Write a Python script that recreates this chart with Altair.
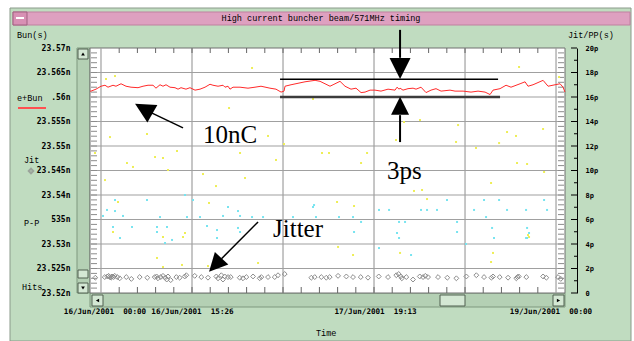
import altair as alt
import pandas as pd

# ---------------------------------------------------------------- data
# e+Bun timing (ns) against hours since 16/Jun/2001 00:00
BUN = [(-1.74, 23.5612), (-1.58, 23.5612), (-0.79, 23.5616), (0.00, 23.5622), (0.63, 23.5624),
       (1.11, 23.5620), (1.90, 23.5624), (2.37, 23.5622), (3.17, 23.5627), (3.96, 23.5622),
       (4.75, 23.5620), (5.86, 23.5619), (6.65, 23.5622), (7.44, 23.5624), (8.23, 23.5624),
       (8.70, 23.5618), (9.34, 23.5625), (9.81, 23.5622), (10.29, 23.5625), (10.92, 23.5620),
       (11.71, 23.5619), (12.19, 23.5616), (12.66, 23.5619), (13.45, 23.5616), (14.08, 23.5619),
       (14.88, 23.5614), (15.67, 23.5616), (16.46, 23.5620), (17.25, 23.5626), (17.72, 23.5624),
       (18.52, 23.5622), (19.31, 23.5624), (19.62, 23.5620), (20.10, 23.5622), (20.41, 23.5616),
       (20.89, 23.5620), (22.00, 23.5620), (23.26, 23.5618), (24.37, 23.5620), (25.32, 23.5622),
       (26.74, 23.5618), (27.69, 23.5616), (28.49, 23.5610), (28.96, 23.5612), (29.12, 23.5622),
       (30.07, 23.5625), (32.28, 23.5631), (33.87, 23.5634), (34.66, 23.5632), (36.24, 23.5622),
       (36.72, 23.5625), (37.82, 23.5632), (38.61, 23.5622), (39.56, 23.5616), (40.35, 23.5618),
       (41.15, 23.5609), (41.78, 23.5610), (42.57, 23.5614), (43.36, 23.5614), (44.31, 23.5612),
       (45.42, 23.5616), (46.53, 23.5614), (46.84, 23.5620), (47.16, 23.5616), (47.32, 23.5618),
       (47.79, 23.5614), (48.58, 23.5617), (49.38, 23.5618), (49.85, 23.5616), (50.64, 23.5620),
       (51.43, 23.5609), (52.22, 23.5614), (53.01, 23.5617), (53.81, 23.5612), (55.23, 23.5614),
       (56.02, 23.5612), (57.29, 23.5612), (58.55, 23.5610), (59.66, 23.5612), (60.77, 23.5610),
       (61.56, 23.5605), (62.03, 23.5614), (63.14, 23.5617), (64.09, 23.5624), (64.88, 23.5620),
       (66.31, 23.5627), (67.10, 23.5631), (67.57, 23.5622), (68.36, 23.5625), (69.95, 23.5634),
       (70.74, 23.5622), (71.85, 23.5625), (72.64, 23.5627), (73.11, 23.5620), (73.42, 23.5610)]

# Jitter (ps, right axis)
JITTER = [(-0.90, 1.25), (0.59, 1.30), (1.00, 1.35), (1.20, 1.40), (1.38, 1.30), (1.60, 1.25),
          (1.74, 1.35), (2.00, 1.30), (2.17, 1.40), (2.58, 1.30), (2.96, 1.20), (4.00, 1.30),
          (4.80, 1.15), (6.12, 1.30), (7.33, 1.25), (8.50, 1.30), (8.80, 1.35), (9.02, 1.20),
          (9.45, 1.30), (9.81, 1.40), (10.18, 1.25), (10.40, 1.10), (10.60, 1.35), (11.03, 1.05),
          (11.92, 1.30), (12.45, 1.25), (13.25, 1.35), (13.50, 1.45), (14.83, 1.40), (15.87, 1.30),
          (16.93, 1.25), (18.25, 1.35), (18.52, 1.20), (19.04, 1.45), (19.30, 1.10), (19.58, 1.35),
          (20.10, 1.30), (20.53, 1.30), (21.95, 1.25), (22.47, 1.20), (23.00, 1.30), (24.06, 1.35),
          (25.11, 1.20), (25.37, 1.30), (26.43, 1.30), (27.49, 1.30), (28.01, 1.45), (29.07, 1.55),
          (33.28, 1.25), (33.82, 1.30), (34.86, 1.30), (35.65, 1.25), (36.19, 1.30), (37.51, 1.40),
          (38.82, 1.35), (39.88, 1.30), (41.10, 1.30), (42.25, 1.25), (43.95, 1.35), (45.42, 1.30),
          (46.73, 1.45), (47.11, 1.55), (47.43, 1.35), (47.60, 1.20), (48.31, 1.30), (49.37, 1.10),
          (50.44, 1.35), (50.96, 1.30), (51.32, 1.40), (51.75, 1.30), (53.33, 1.30), (54.80, 1.25),
          (56.23, 1.20), (57.81, 1.35), (59.39, 1.45), (60.61, 1.30), (61.77, 1.25), (62.03, 1.35),
          (63.09, 1.30), (64.41, 1.25), (65.72, 1.20), (65.90, 1.30), (66.10, 1.35), (67.30, 1.30),
          (69.95, 1.35), (70.47, 1.25), (72.32, 1.30), (72.75, 1.15)]

# Hits (yellow specks) and P-P (cyan specks), right-axis units
HITS = [(0.79, 17.47), (2.22, 17.71), (23.90, 18.37), (20.26, 15.10), (33.55, 15.84), (66.15, 18.45),
        (72.48, 17.63), (1.42, 12.73), (7.28, 12.98), (26.43, 12.82), (28.96, 12.16), (-0.95, 11.43),
        (12.03, 11.59), (8.55, 11.10), (9.81, 11.02), (4.11, 10.61), (5.06, 10.29), (22.00, 11.43),
        (27.69, 10.86), (10.60, 10.04), (16.14, 9.71), (22.79, 9.39), (0.63, 9.22), (18.20, 8.73),
        (2.69, 7.43), (17.09, 7.35), (13.29, 4.90), (46.68, 12.49), (47.95, 13.96), (50.48, 14.12),
        (56.50, 13.71), (69.95, 13.39), (56.18, 12.33), (62.99, 12.24), (64.25, 13.14), (65.67, 12.82),
        (34.97, 11.43), (36.08, 11.43), (42.10, 11.43), (41.15, 10.61), (65.83, 10.61), (67.42, 10.53),
        (70.11, 9.88), (59.34, 11.84), (61.72, 8.98), (49.53, 8.33), (50.80, 8.41), (51.59, 7.67),
        (37.35, 7.43), (40.04, 7.10), (1.90, 4.98), (9.81, 4.57), (8.86, 2.86), (9.81, 2.12),
        (12.82, 2.29), (12.98, 4.57), (16.93, 2.20), (24.85, 2.45), (37.51, 3.76), (39.88, 3.10),
        (47.32, 3.27), (62.03, 3.27), (61.72, 2.53), (67.57, 4.73), (67.73, 4.57)]
PP = [(2.22, 7.59), (7.28, 7.59), (13.29, 8.00), (14.56, 7.59), (20.10, 7.02), (21.68, 6.69),
      (0.95, 6.78), (2.22, 6.69), (33.55, 7.02), (0.32, 6.29), (3.48, 6.29), (9.34, 6.20),
      (13.61, 6.20), (15.67, 6.20), (19.31, 6.29), (22.00, 6.29), (23.90, 6.20), (25.64, 6.20),
      (30.38, 6.20), (1.90, 5.39), (4.91, 5.39), (8.86, 5.39), (10.44, 5.39), (16.77, 5.47),
      (18.36, 5.14), (21.68, 5.31), (22.00, 4.98), (43.99, 6.78), (45.58, 6.78), (50.64, 6.78),
      (51.59, 6.78), (53.17, 6.78), (54.75, 7.59), (59.03, 6.78), (60.61, 7.59), (62.99, 7.59),
      (64.25, 6.78), (67.26, 6.78), (70.11, 7.59), (70.58, 6.78), (33.71, 7.18), (34.02, 6.20),
      (37.66, 6.20), (39.88, 6.20), (41.15, 5.80), (47.16, 5.80), (48.11, 5.80), (56.34, 5.80),
      (60.93, 6.20), (61.88, 5.31), (67.42, 5.31), (40.04, 4.98), (56.34, 4.98), (67.42, 4.49),
      (3.01, 4.49), (8.86, 4.98), (10.13, 4.08), (11.24, 4.33), (18.36, 4.49), (43.99, 3.67),
      (46.84, 4.90), (47.16, 4.49), (49.06, 3.10), (57.76, 4.00), (62.19, 4.49), (67.26, 4.49),
      (67.73, 4.90)]

LEFT_TICKS = [23.52, 23.525, 23.53, 23.535, 23.54, 23.545, 23.55, 23.555, 23.56, 23.565, 23.57]
RIGHT_TICKS = [0, 2, 4, 6, 8, 10, 12, 14, 16, 18, 20]
X_GRID = [0, 14.4, 28.8, 43.2, 57.6, 72]
X_LABEL_POS = [0.63, 14.48, 43.44, 71.2]
X_LABELS = ["16/Jun/2001\u00a0\u00a000:00", "16/Jun/2001\u00a0\u00a015:26",
            "17/Jun/2001\u00a0\u00a019:13", "19/Jun/2001\u00a0\u00a000:00"]

# annotations (data units: hours, ns)
ANN_LINES = [(28.33, 23.5636, 62.83, 23.5636, "#000000", 1.5),
             (28.33, 23.5600, 63.14, 23.5600, "#3c3c3c", 2.5),
             (47.32, 23.5737, 47.32, 23.5680, "#000000", 2.0),
             (47.32, 23.5563, 47.32, 23.5508, "#000000", 2.0),
             (7.75, 23.5569, 12.98, 23.5537, "#000000", 1.5),
             (19.07, 23.5270, 24.85, 23.5345, "#000000", 1.5)]
ANN_HEADS = [(47.32, 23.5658, 180, 441), (47.32, 23.5582, 0, 324),
             (6.76, 23.5576, 300, 400), (18.09, 23.5257, 223, 339)]
ANN_TEXT = [(16.14, 23.5506, "10nC"), (45.26, 23.5433, "3ps"), (27.22, 23.5314, "Jitter")]

# ---------------------------------------------------------------- layout (window chrome, px)
W, H = 475, 245
FRAME = [(-80, 541, -40, 293, "#c0dcc0", "#8a9a8a"),
         (-77, 540, -36, -23, "#dea0c0", "#c080a0"),
         (-77, -63, -36, -23, "#d890b4", "#a06080"),
         (-13, 0, 0, 245, "#b4d0b4", "#7f987f"),
         (-12, -2, 1, 11, "#d4e8d4", "#506050"),
         (-12, -2, 222, 230, "#d4e8d4", "#506050"),
         (-12, -2, 235, 245, "#d4e8d4", "#506050"),
         (0, 475, 245, 259, "#b4d0b4", "#7f987f"),
         (2, 13, 247, 258, "#d4e8d4", "#506050"),
         (350, 375, 247, 258, "#d4e8d4", "#506050"),
         (463, 474, 247, 258, "#d4e8d4", "#506050"),
         (0, 475, 0, 245, "#ffffff", "#707070")]
GUI_TEXT = [(-73, -13, "Bun(s)"), (-73, 49.5, "e+Bun"), (-66, 112, "Jit"), (-66, 174.5, "P-P"),
            (-68, 238.5, "Hits"), (478, -13, "Jit/PP(s)"), (226, 285, "Time")]
GLYPHS = [(-7, 6, "triangle-up"), (-7, 240, "triangle-down"),
          (7.5, 252.5, "triangle-left"), (468.5, 252.5, "triangle-right")]

XS = alt.Scale(domain=[-1.74, 73.42], nice=False, zero=False)
YL = alt.Scale(domain=[23.52, 23.57], nice=False, zero=False)
YR = alt.Scale(domain=[0, 20], nice=False, zero=False)
MONO = "DejaVu Sans Mono"
GUI = "Liberation Mono"
ARROW = "M0,-1L1,1L-1,1Z"
one = pd.DataFrame({"a": [0]})

frame = alt.Chart(pd.DataFrame(FRAME, columns=["x0", "x1", "y0", "y1", "f", "s"])).mark_rect(
    strokeWidth=1).encode(
    x=alt.X("x0:Q", scale=None), x2="x1:Q", y=alt.Y("y0:Q", scale=None), y2="y1:Q",
    fill=alt.Fill("f:N", scale=None), stroke=alt.Stroke("s:N", scale=None))

hgrid = alt.Chart(pd.DataFrame({"v": LEFT_TICKS[1:-1]})).mark_rule(
    color="#a0a0a0", strokeWidth=1.2).encode(
    y=alt.Y("v:Q", scale=YL, axis=None), x=alt.value(0), x2=alt.value(W))
vgrid = alt.Chart(pd.DataFrame({"t": X_GRID})).mark_rule(
    color="#a0a0a0", strokeWidth=1.2).encode(
    x=alt.X("t:Q", scale=XS, axis=None), y=alt.value(0), y2=alt.value(H))

minor_v = pd.DataFrame({"v": [round(23.52 + 0.001 * i, 3) for i in range(1, 50)]})
minor_t = pd.DataFrame({"t": [round(2.88 * k, 2) for k in range(1, 25)]})
lstrip = alt.Chart(minor_v).mark_rule(color="#8c8c8c").encode(
    y=alt.Y("v:Q", scale=YL, axis=None), x=alt.value(1), x2=alt.value(7))
rstrip = alt.Chart(minor_v).mark_rule(color="#8c8c8c").encode(
    y=alt.Y("v:Q", scale=YL, axis=None), x=alt.value(W - 7), x2=alt.value(W - 1))
topt = alt.Chart(minor_t).mark_rule(color="#666666").encode(
    x=alt.X("t:Q", scale=XS, axis=None), y=alt.value(0), y2=alt.value(5))
bott = alt.Chart(minor_t).mark_rule(color="#666666").encode(
    x=alt.X("t:Q", scale=XS, axis=None), y=alt.value(H - 6), y2=alt.value(H))

hits = alt.Chart(pd.DataFrame(HITS, columns=["t", "p"])).mark_square(
    size=4, color="#eeee55", opacity=1).encode(
    x=alt.X("t:Q", scale=XS, axis=None), y=alt.Y("p:Q", scale=YR, axis=None))
pp = alt.Chart(pd.DataFrame(PP, columns=["t", "p"])).mark_square(
    size=4, color="#77e4f0", opacity=1).encode(
    x=alt.X("t:Q", scale=XS, axis=None), y=alt.Y("p:Q", scale=YR, axis=None))

right_axis = alt.Axis(orient="right", values=RIGHT_TICKS,
                      labelExpr="datum.value == 0 ? '0' : datum.value + 'p'",
                      grid=False, ticks=False, tickSize=0, domain=True, domainColor="black",
                      domainWidth=1, offset=12, labelPadding=8, labelFont=MONO,
                      labelFontWeight="bold", labelFontSize=7, labelColor="black",
                      labelOverlap=False, labelFlush=False, title=None, zindex=1)
jit = alt.Chart(pd.DataFrame(JITTER, columns=["t", "p"])).mark_point(
    shape="diamond", filled=False, color="#8c8c8c", size=24, strokeWidth=1, opacity=1).encode(
    x=alt.X("t:Q", scale=XS, axis=None), y=alt.Y("p:Q", scale=YR, axis=right_axis))

left_axis = alt.Axis(orient="left", values=LEFT_TICKS,
                     labelExpr="abs(datum.value - 23.56) < 1e-6 ? '.56n' : "
                               "(abs(datum.value - 23.535) < 1e-6 ? '535n' : "
                               "format(datum.value, '.3~f') + 'n')",
                     grid=False, ticks=False, tickSize=0, domain=False, labelPadding=20,
                     labelFont=MONO, labelFontWeight="bold", labelFontSize=8,
                     labelColor="black", labelOverlap=False, labelFlush=False,
                     title=None, zindex=1)
bun = alt.Chart(pd.DataFrame(BUN, columns=["t", "v"])).mark_line(
    color="#ff2a2a", strokeWidth=1).encode(
    x=alt.X("t:Q", scale=XS, axis=None), y=alt.Y("v:Q", scale=YL, axis=left_axis))

rmaj = alt.Chart(pd.DataFrame({"p": RIGHT_TICKS})).mark_rule(color="black").encode(
    y=alt.Y("p:Q", scale=YR, axis=None), x=alt.value(W + 6), x2=alt.value(W + 12))
rmin = alt.Chart(pd.DataFrame({"p": [1, 3, 5, 7, 9, 11, 13, 15, 17, 19]})).mark_rule(
    color="black").encode(
    y=alt.Y("p:Q", scale=YR, axis=None), x=alt.value(W + 9), x2=alt.value(W + 12))

ann_lines = alt.Chart(pd.DataFrame(ANN_LINES, columns=["t1", "v1", "t2", "v2", "c", "w"])).mark_rule().encode(
    x=alt.X("t1:Q", scale=XS, axis=None), x2="t2:Q",
    y=alt.Y("v1:Q", scale=YL, axis=None), y2="v2:Q",
    color=alt.Color("c:N", scale=None), strokeWidth=alt.StrokeWidth("w:Q", scale=None))
heads = alt.Chart(pd.DataFrame(ANN_HEADS, columns=["t", "v", "a", "s"])).mark_point(
    shape=ARROW, filled=True, color="black", opacity=1, strokeWidth=0).encode(
    x=alt.X("t:Q", scale=XS, axis=None), y=alt.Y("v:Q", scale=YL, axis=None),
    angle=alt.Angle("a:Q", scale=None), size=alt.Size("s:Q", scale=None))
ann_text = alt.Chart(pd.DataFrame(ANN_TEXT, columns=["t", "v", "txt"])).mark_text(
    font="Liberation Serif", fontSize=25, align="left", baseline="alphabetic", color="black").encode(
    x=alt.X("t:Q", scale=XS, axis=None), y=alt.Y("v:Q", scale=YL, axis=None), text="txt:N")

xlab = alt.Chart(pd.DataFrame({"t": X_LABEL_POS, "label": X_LABELS})).mark_text(
    font=MONO, fontWeight="bold", fontSize=7.6, align="center", baseline="middle", color="black").encode(
    x=alt.X("t:Q", scale=XS, axis=None), y=alt.value(264), text="label:N")

gui = alt.Chart(pd.DataFrame(GUI_TEXT, columns=["x", "y", "txt"])).mark_text(
    font=GUI, fontSize=8.5, align="left", baseline="middle", color="black").encode(
    x=alt.X("x:Q", scale=None), y=alt.Y("y:Q", scale=None), text="txt:N")
title = alt.Chart(one).mark_text(
    font=GUI, fontSize=8.5, align="center", baseline="middle", color="black").encode(
    x=alt.value(231), y=alt.value(-30), text=alt.value("High current buncher beam/571MHz timing"))
dash = alt.Chart(one).mark_rule(color="white", strokeWidth=2).encode(
    x=alt.value(-74), x2=alt.value(-66), y=alt.value(-30))
glyphs = alt.Chart(pd.DataFrame(GLYPHS, columns=["x", "y", "shp"])).mark_point(
    filled=True, color="black", opacity=1, size=14).encode(
    x=alt.X("x:Q", scale=None), y=alt.Y("y:Q", scale=None), shape=alt.Shape("shp:N", scale=None))
legdia = alt.Chart(one).mark_point(shape="diamond", filled=False, color="#8c8c8c", size=20).encode(
    x=alt.value(-59), y=alt.value(123))
underline = alt.Chart(one).mark_rule(color="#ff5050", strokeWidth=2).encode(
    x=alt.value(-72), x2=alt.value(-44), y=alt.value(60))

chart = alt.layer(
    frame, hgrid, vgrid, lstrip, rstrip, topt, bott, hits, pp, jit, bun, rmaj, rmin,
    ann_lines, heads, ann_text, xlab, gui, title, dash, glyphs, legdia, underline
).resolve_scale(
    x="independent", y="independent", color="independent", fill="independent",
    stroke="independent", size="independent", shape="independent", angle="independent",
    strokeWidth="independent"
).properties(
    width=W, height=H,
    padding={"left": 90, "top": 48, "right": 69, "bottom": 48},
    autosize=alt.AutoSizeParams(type="none"),
    background="white"
).configure_view(stroke=None)

chart.save("out.html", embed_options={"renderer": "svg", "actions": False})
